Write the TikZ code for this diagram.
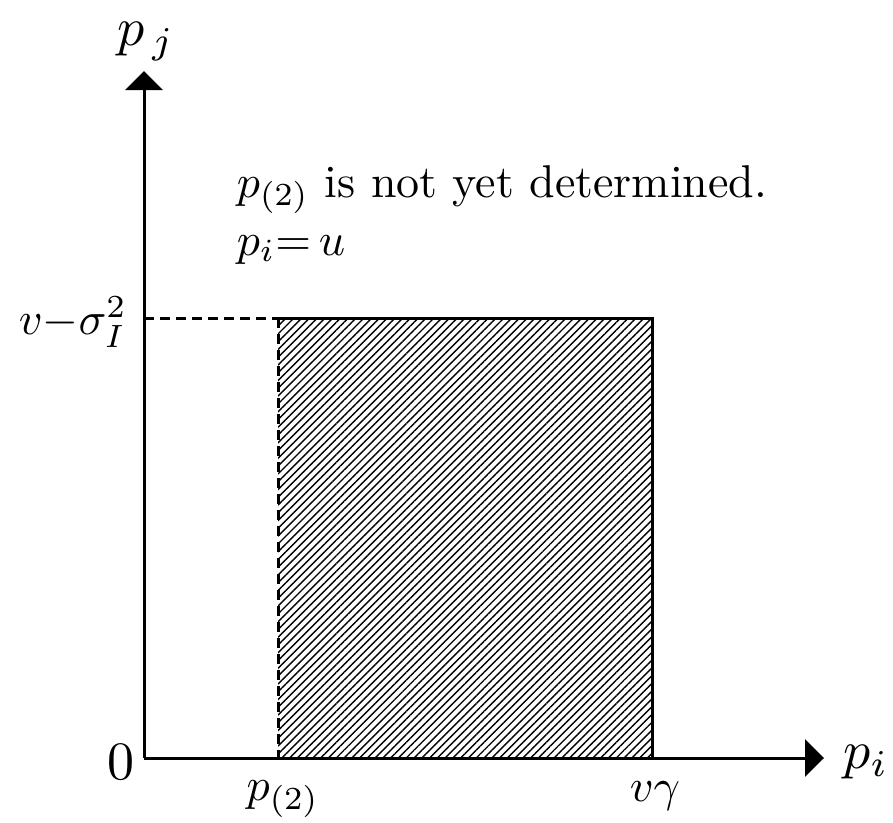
\documentclass[tikz,border=0pt]{standalone}
\usetikzlibrary{arrows.meta,patterns.meta}
\begin{document}
\begin{tikzpicture}[x=1pt,y=-1pt,
  axis/.style={line width=3pt,-{Triangle[length=19pt,width=37pt]}},
  edge/.style={line width=3pt},
  dashedge/.style={line width=3pt,dash pattern=on 10pt off 6pt},
  lbl/.style={scale=4.6,inner sep=0pt},
  biglbl/.style={scale=5.4,inner sep=0pt}]
\useasboundingbox (0,0) rectangle (893,822);
\coordinate (O) at (144,758);
\coordinate (xend) at (824,758);
\coordinate (yend) at (144,71);
\coordinate (A) at (278,758);
\coordinate (B) at (652,758);
\coordinate (C) at (652,318);
\coordinate (D) at (278,318);
\coordinate (Y) at (144,318);
\fill[pattern={Lines[angle=45,distance=5.5pt,line width=1.4pt]}] (A) rectangle (C);
\draw[dashedge] (Y) -- (D);
\draw[dashedge] (D) -- (A);
\draw[edge] (D) -- (C) -- (B);
\draw[axis] (O) -- (xend);
\draw[axis] (O) -- (yend);
\node[biglbl] (pj) at (146,42) {$p_{\,j}$};
\node[biglbl] (pi) at (866,762) {$p_i$};
\node[biglbl] (zero) at (121,762) {$0$};
\node[lbl] (p2) at (283,799) {$p_{(2)}$};
\node[lbl] (vg) at (655,796) {$v\gamma$};
\node[lbl,anchor=east] (vs) at (128,322) {$v{-}\sigma_I^2$};
\node[lbl,anchor=base west] (t1) at (236,197) {$p_{(2)}$ is not yet determined.};
\node[lbl,anchor=base west] (t2) at (236,255) {$p_i{=}\,u$};
\end{tikzpicture}
\end{document}
